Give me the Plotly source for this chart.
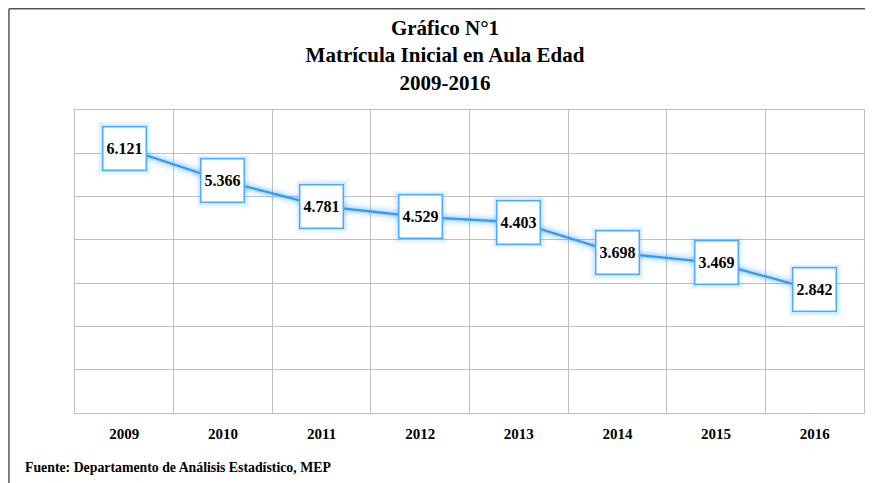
import plotly.graph_objects as go

years = ["2009", "2010", "2011", "2012", "2013", "2014", "2015", "2016"]
values = [6.121, 5.366, 4.781, 4.529, 4.403, 3.698, 3.469, 2.842]
labels = ["6.121", "5.366", "4.781", "4.529", "4.403", "3.698", "3.469", "2.842"]

xs = list(range(len(years)))
FONT = "Liberation Serif"
LINE = "#2a9df4"
BOX = "#4aaefc"

fig = go.Figure()
# glow layers
for w, a in [(14, 0.07), (9, 0.12), (5, 0.2)]:
    fig.add_trace(go.Scatter(x=xs, y=values, mode="lines",
                             line=dict(color=f"rgba(70,160,250,{a})", width=w),
                             hoverinfo="skip", showlegend=False))
fig.add_trace(go.Scatter(x=xs, y=values, mode="lines",
                         line=dict(color=LINE, width=2.2),
                         showlegend=False))

annotations = []
for x, v, t in zip(xs, values, labels):
    for s, a in [(54, 0.07), (50, 0.1), (47, 0.16)]:
        annotations.append(dict(x=x, y=v, xref="x", yref="y", text=" ", showarrow=False,
                                width=s, height=s, bgcolor=f"rgba(90,170,255,{a})",
                                borderpad=0, borderwidth=0))
    annotations.append(dict(x=x, y=v, xref="x", yref="y", text=f"<b>{t}</b>", showarrow=False,
                            width=40, height=40, bgcolor="white", bordercolor=BOX,
                            borderwidth=1.5, borderpad=1,
                            font=dict(family=FONT, size=16, color="black")))

annotations.append(dict(x=-0.0659, y=-0.1815, xref="paper", yref="paper", xanchor="left",
                        yanchor="middle", showarrow=False,
                        text="<b>Fuente: Departamento de Análisis Estadístico, MEP</b>",
                        font=dict(family=FONT, size=13.8, color="black")))

fig.update_layout(
    width=865, height=475,
    margin=dict(l=67, r=9, t=102, b=70),
    paper_bgcolor="white", plot_bgcolor="white",
    title=dict(text="<b>Gráfico N°1<br>Matrícula Inicial en Aula Edad<br>2009-2016</b>",
               x=437 / 865, xanchor="center", xref="container",
               y=1 - 27 / 475, yanchor="top", yref="container",
               font=dict(family=FONT, size=21, color="black")),
    annotations=annotations,
    shapes=[
        dict(type="line", xref="paper", yref="paper", x0=-0.0837, x1=1.02, y0=1.334, y1=1.334,
             line=dict(color="#555555", width=1.5)),
        dict(type="line", xref="paper", yref="paper", x0=-0.0837, x1=-0.0837, y0=1.334, y1=-0.25,
             line=dict(color="#555555", width=1.5)),
    ],
)
fig.update_xaxes(range=[-0.5, len(years) - 0.5], tickvals=xs,
                 ticktext=[f"<b>{y}</b>" for y in years],
                 tickfont=dict(family=FONT, size=15, color="black"),
                 showgrid=False, zeroline=False,
                 minor=dict(tickmode="linear", tick0=-0.5, dtick=1, showgrid=True,
                            gridcolor="#c0c0c0", gridwidth=1),
                 showline=True, linecolor="#c0c0c0", linewidth=1, mirror=True,
                 ticks="outside", ticklen=7, tickcolor="rgba(0,0,0,0)")
fig.update_yaxes(range=[0, 7], dtick=1, showticklabels=False, showgrid=True,
                 gridcolor="#c0c0c0", gridwidth=1, zeroline=False,
                 showline=True, linecolor="#c0c0c0", linewidth=1, mirror=True)

fig.write_html("out.html")
